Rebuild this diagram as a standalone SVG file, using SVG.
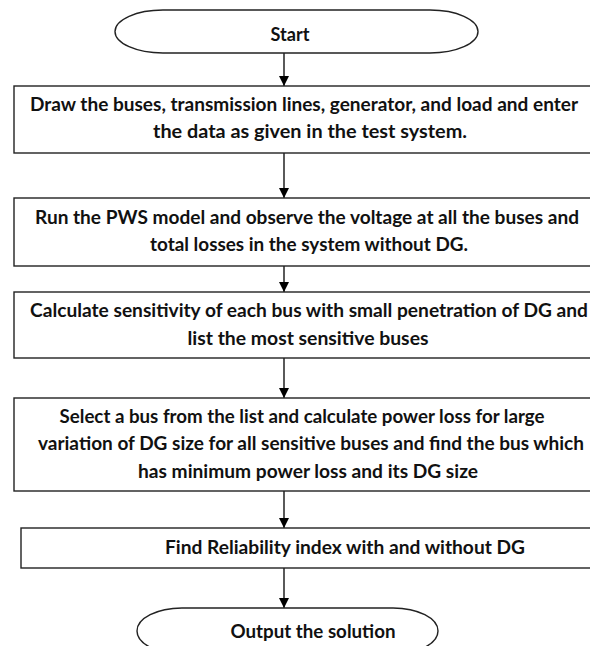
<svg xmlns="http://www.w3.org/2000/svg" width="590" height="646" viewBox="0 0 590 646">
<defs>
<marker id="ah" viewBox="0 0 10 10" refX="10" refY="5" markerWidth="10" markerHeight="10" markerUnits="userSpaceOnUse" orient="auto">
<path d="M0,0 L10,5 L0,10 z" fill="#000"/>
</marker>
<style>
.box{fill:#fff;stroke:#222;stroke-width:1.4}
.t{font-family:Lato,"Liberation Sans",sans-serif;font-weight:bold;font-size:18px;fill:#111;text-anchor:middle}
.c{stroke:#000;stroke-width:1.3;fill:none;marker-end:url(#ah)}
</style>
</defs>
<rect width="590" height="646" fill="#fff"/>
<g id="connectors">
<line class="c" x1="284" y1="53" x2="284" y2="86"/>
<line class="c" x1="284" y1="153" x2="284" y2="198"/>
<line class="c" x1="284" y1="266" x2="284" y2="292"/>
<line class="c" x1="284" y1="358" x2="284" y2="398"/>
<line class="c" x1="284" y1="491" x2="284" y2="528"/>
<line class="c" x1="284" y1="568" x2="284" y2="608"/>
</g>
<g id="start">
<rect class="box" x="115" y="10" width="363" height="43" rx="48" ry="21.5"/>
<text class="t" x="290" y="41" textLength="39" lengthAdjust="spacingAndGlyphs">Start</text>
</g>
<g id="step1">
<rect class="box" x="14" y="86" width="580" height="67"/>
<text class="t" x="304" y="111" textLength="548" lengthAdjust="spacingAndGlyphs">Draw the buses, transmission lines, generator, and load and enter</text>
<text class="t" x="310" y="138" textLength="314" lengthAdjust="spacingAndGlyphs">the data as given in the test system.</text>
</g>
<g id="step2">
<rect class="box" x="14" y="198" width="580" height="68"/>
<text class="t" x="307" y="224" textLength="544" lengthAdjust="spacingAndGlyphs">Run the PWS model and observe the voltage at all the buses and</text>
<text class="t" x="309" y="251" textLength="318" lengthAdjust="spacingAndGlyphs">total losses in the system without DG.</text>
</g>
<g id="step3">
<rect class="box" x="14" y="292" width="580" height="66"/>
<text class="t" x="309" y="317" textLength="558" lengthAdjust="spacingAndGlyphs">Calculate sensitivity of each bus with small penetration of DG and</text>
<text class="t" x="308" y="345" textLength="241" lengthAdjust="spacingAndGlyphs">list the most sensitive buses</text>
</g>
<g id="step4">
<rect class="box" x="14" y="398" width="580" height="93"/>
<text class="t" x="302" y="423" textLength="485" lengthAdjust="spacingAndGlyphs">Select a bus from the list and calculate power loss for large</text>
<text class="t" x="311" y="450" textLength="546" lengthAdjust="spacingAndGlyphs">variation of DG size for all sensitive buses and find the bus which</text>
<text class="t" x="308" y="478" textLength="340" lengthAdjust="spacingAndGlyphs">has minimum power loss and its DG size</text>
</g>
<g id="step5">
<rect class="box" x="21" y="528" width="573" height="40"/>
<text class="t" x="345" y="554" textLength="360" lengthAdjust="spacingAndGlyphs">Find Reliability index with and without DG</text>
</g>
<g id="output">
<rect class="box" x="137" y="608" width="301" height="46" rx="45" ry="23"/>
<text class="t" x="313" y="638" textLength="165" lengthAdjust="spacingAndGlyphs">Output the solution</text>
</g>
</svg>
